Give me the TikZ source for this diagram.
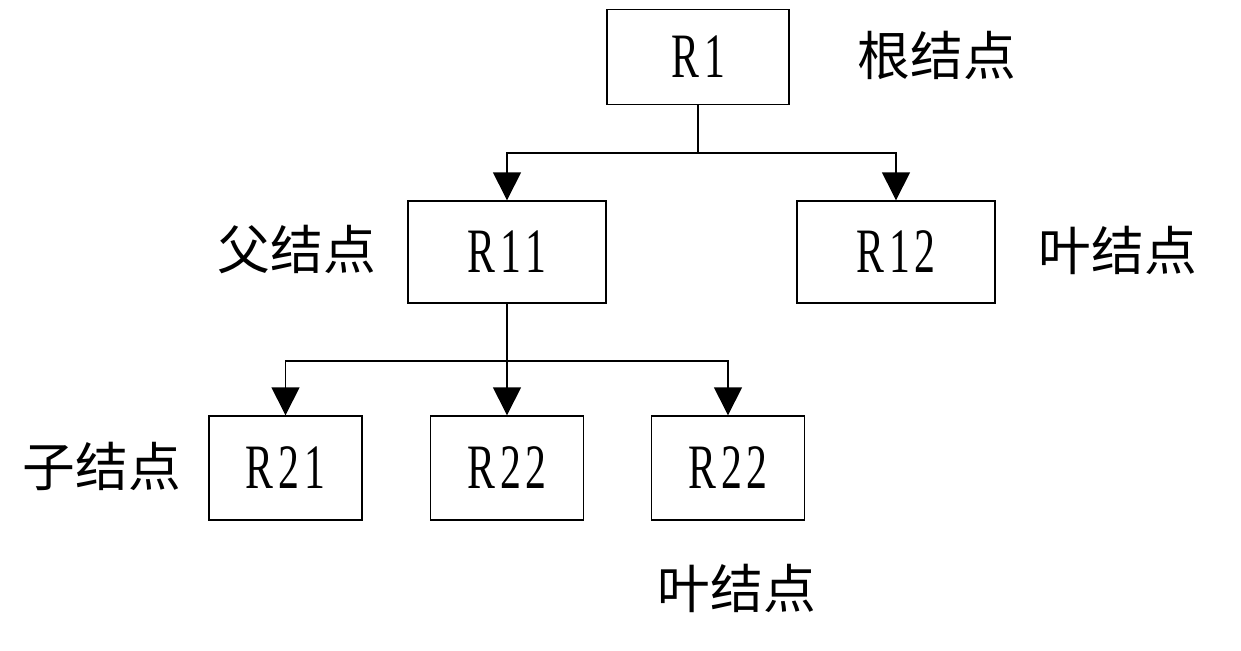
\documentclass[tikz,border=0pt]{standalone}
\usepackage{fontspec}
\setmainfont{Liberation Serif}[FakeStretch=0.66,LetterSpace=8]
\newfontfamily\cjk{Noto Sans CJK SC}
\usetikzlibrary{arrows.meta,positioning}

\begin{document}
\begin{tikzpicture}[x=0.02cm,y=0.02cm,
		box/.style={draw,line width=0.8pt,inner sep=0pt,font=\fontsize{36}{40}\selectfont},
		bigbox/.style={box,minimum width=3.96cm,minimum height=2.04cm},
		smallbox/.style={box,minimum width=3.06cm,minimum height=2.08cm},
		lbl/.style={font=\cjk\fontsize{30}{32}\selectfont},
		arr/.style={line width=0.8pt,-{Triangle[length=5.6mm,width=5.6mm]}}]
		
		\useasboundingbox (0,0) rectangle (1241,650);
		
		% root
		\node[box,minimum width=3.64cm,minimum height=1.9cm] (R1) at (698,593) {R1};
		\node[lbl] (tRoot) at (937,595) {根结点};
		
		% second level
		\node[bigbox] (R11) at (507,398) {R11};
		\node[bigbox] (R12) at (896,398) {R12};
		\node[lbl] (tParent) at (297,400) {父结点};
		\node[lbl] (tLeafA) at (1118,400) {叶结点};
		
		% third level
		\node[smallbox] (R21) at (285.5,182) {R21};
		\node[smallbox] (R22) at (507,182) {R22};
		\node[smallbox] (R23) at (728,182) {R22};
		\node[lbl] (tChild) at (102,184) {子结点};
		\node[lbl] (tLeafB) at (737,62) {叶结点};
		
		% connectors
		\coordinate (j1) at (698,497);
		\coordinate (j2) at (507,289);
		
		\draw[line width=0.8pt] (R1.south) -- (j1);
		\draw[arr] (j1) -| (R11.north);
		\draw[arr] (j1) -| (R12.north);
		
		\draw[arr] (R11.south) -- (R22.north);
		\draw[arr] (j2) -| (R21.north);
		\draw[arr] (j2) -| (R23.north);
		
	\end{tikzpicture}
\end{document}
